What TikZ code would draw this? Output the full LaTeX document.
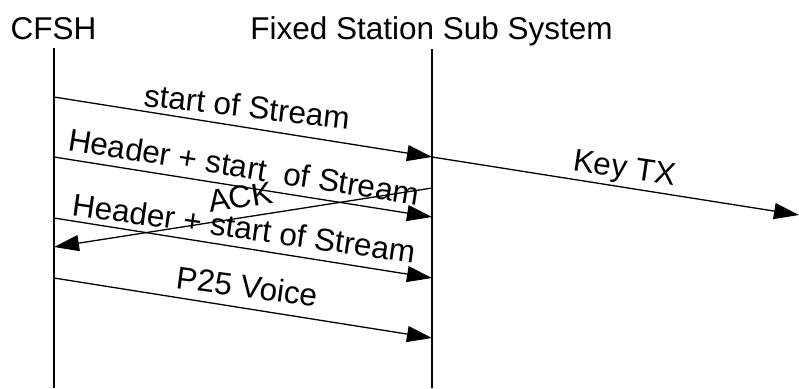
\documentclass[tikz,border=0pt]{standalone}
\usepackage{fontspec}
\setmainfont{Liberation Sans}
\usetikzlibrary{arrows.meta}
\begin{document}
\begin{tikzpicture}[x=1pt,y=-1pt,
  lbl/.style={inner sep=0pt,anchor=base west,font=\fontsize{31.5}{36}\selectfont},
  head/.style={inner sep=0pt,anchor=base,font=\fontsize{31.5}{36}\selectfont},
  life/.style={line width=1.3pt},
  msg/.style={line width=1.3pt,-{Triangle[length=25pt,width=16pt]}}]
\useasboundingbox (0,0) rectangle (799,388);
\fill[white] (0,0) rectangle (799,388);
% headers
\node[head] (cfsh) at (53.5,39) {CFSH};
\node[head] (fss) at (431.5,39) {Fixed Station Sub System};
% lifeline coordinates
\coordinate (a0) at (54,48);
\coordinate (aE) at (54,388);
\coordinate (b0) at (432,49);
\coordinate (bE) at (432,388);
\draw[life] (a0) -- (aE);
\draw[life] (b0) -- (bE);
% message end points
\coordinate (a1) at (54,97);
\coordinate (b1) at (432,157);
\coordinate (a2) at (54,157);
\coordinate (b2) at (432,217);
\coordinate (b3) at (432,188);
\coordinate (a3) at (54,247);
\coordinate (a4) at (54,218);
\coordinate (b4) at (432,278);
\coordinate (a5) at (54,278);
\coordinate (b5) at (432,338);
\coordinate (k1) at (799,215);
% messages
\draw[msg] (a1) -- (b1);
\draw[msg] (a2) -- (b2);
\draw[msg] (b3) -- (a3);
\draw[msg] (a4) -- (b4);
\draw[msg] (a5) -- (b5);
\draw[msg] (b1) -- (k1);
% labels
\node[lbl,rotate=-6.5] (l1) at (143,106) {start of Stream};
\node[lbl,rotate=-9] (l2) at (67,150) {Header + start~~of Stream};
\node[lbl,rotate=9] (l3) at (210,213) {ACK};
\node[lbl,rotate=-8] (l4) at (71,215) {Header + start of Stream};
\node[lbl,rotate=-7.6] (l5) at (175,288) {P25 Voice};
\node[lbl,rotate=-8.5] (l6) at (572,170) {Key TX};
\end{tikzpicture}
\end{document}
